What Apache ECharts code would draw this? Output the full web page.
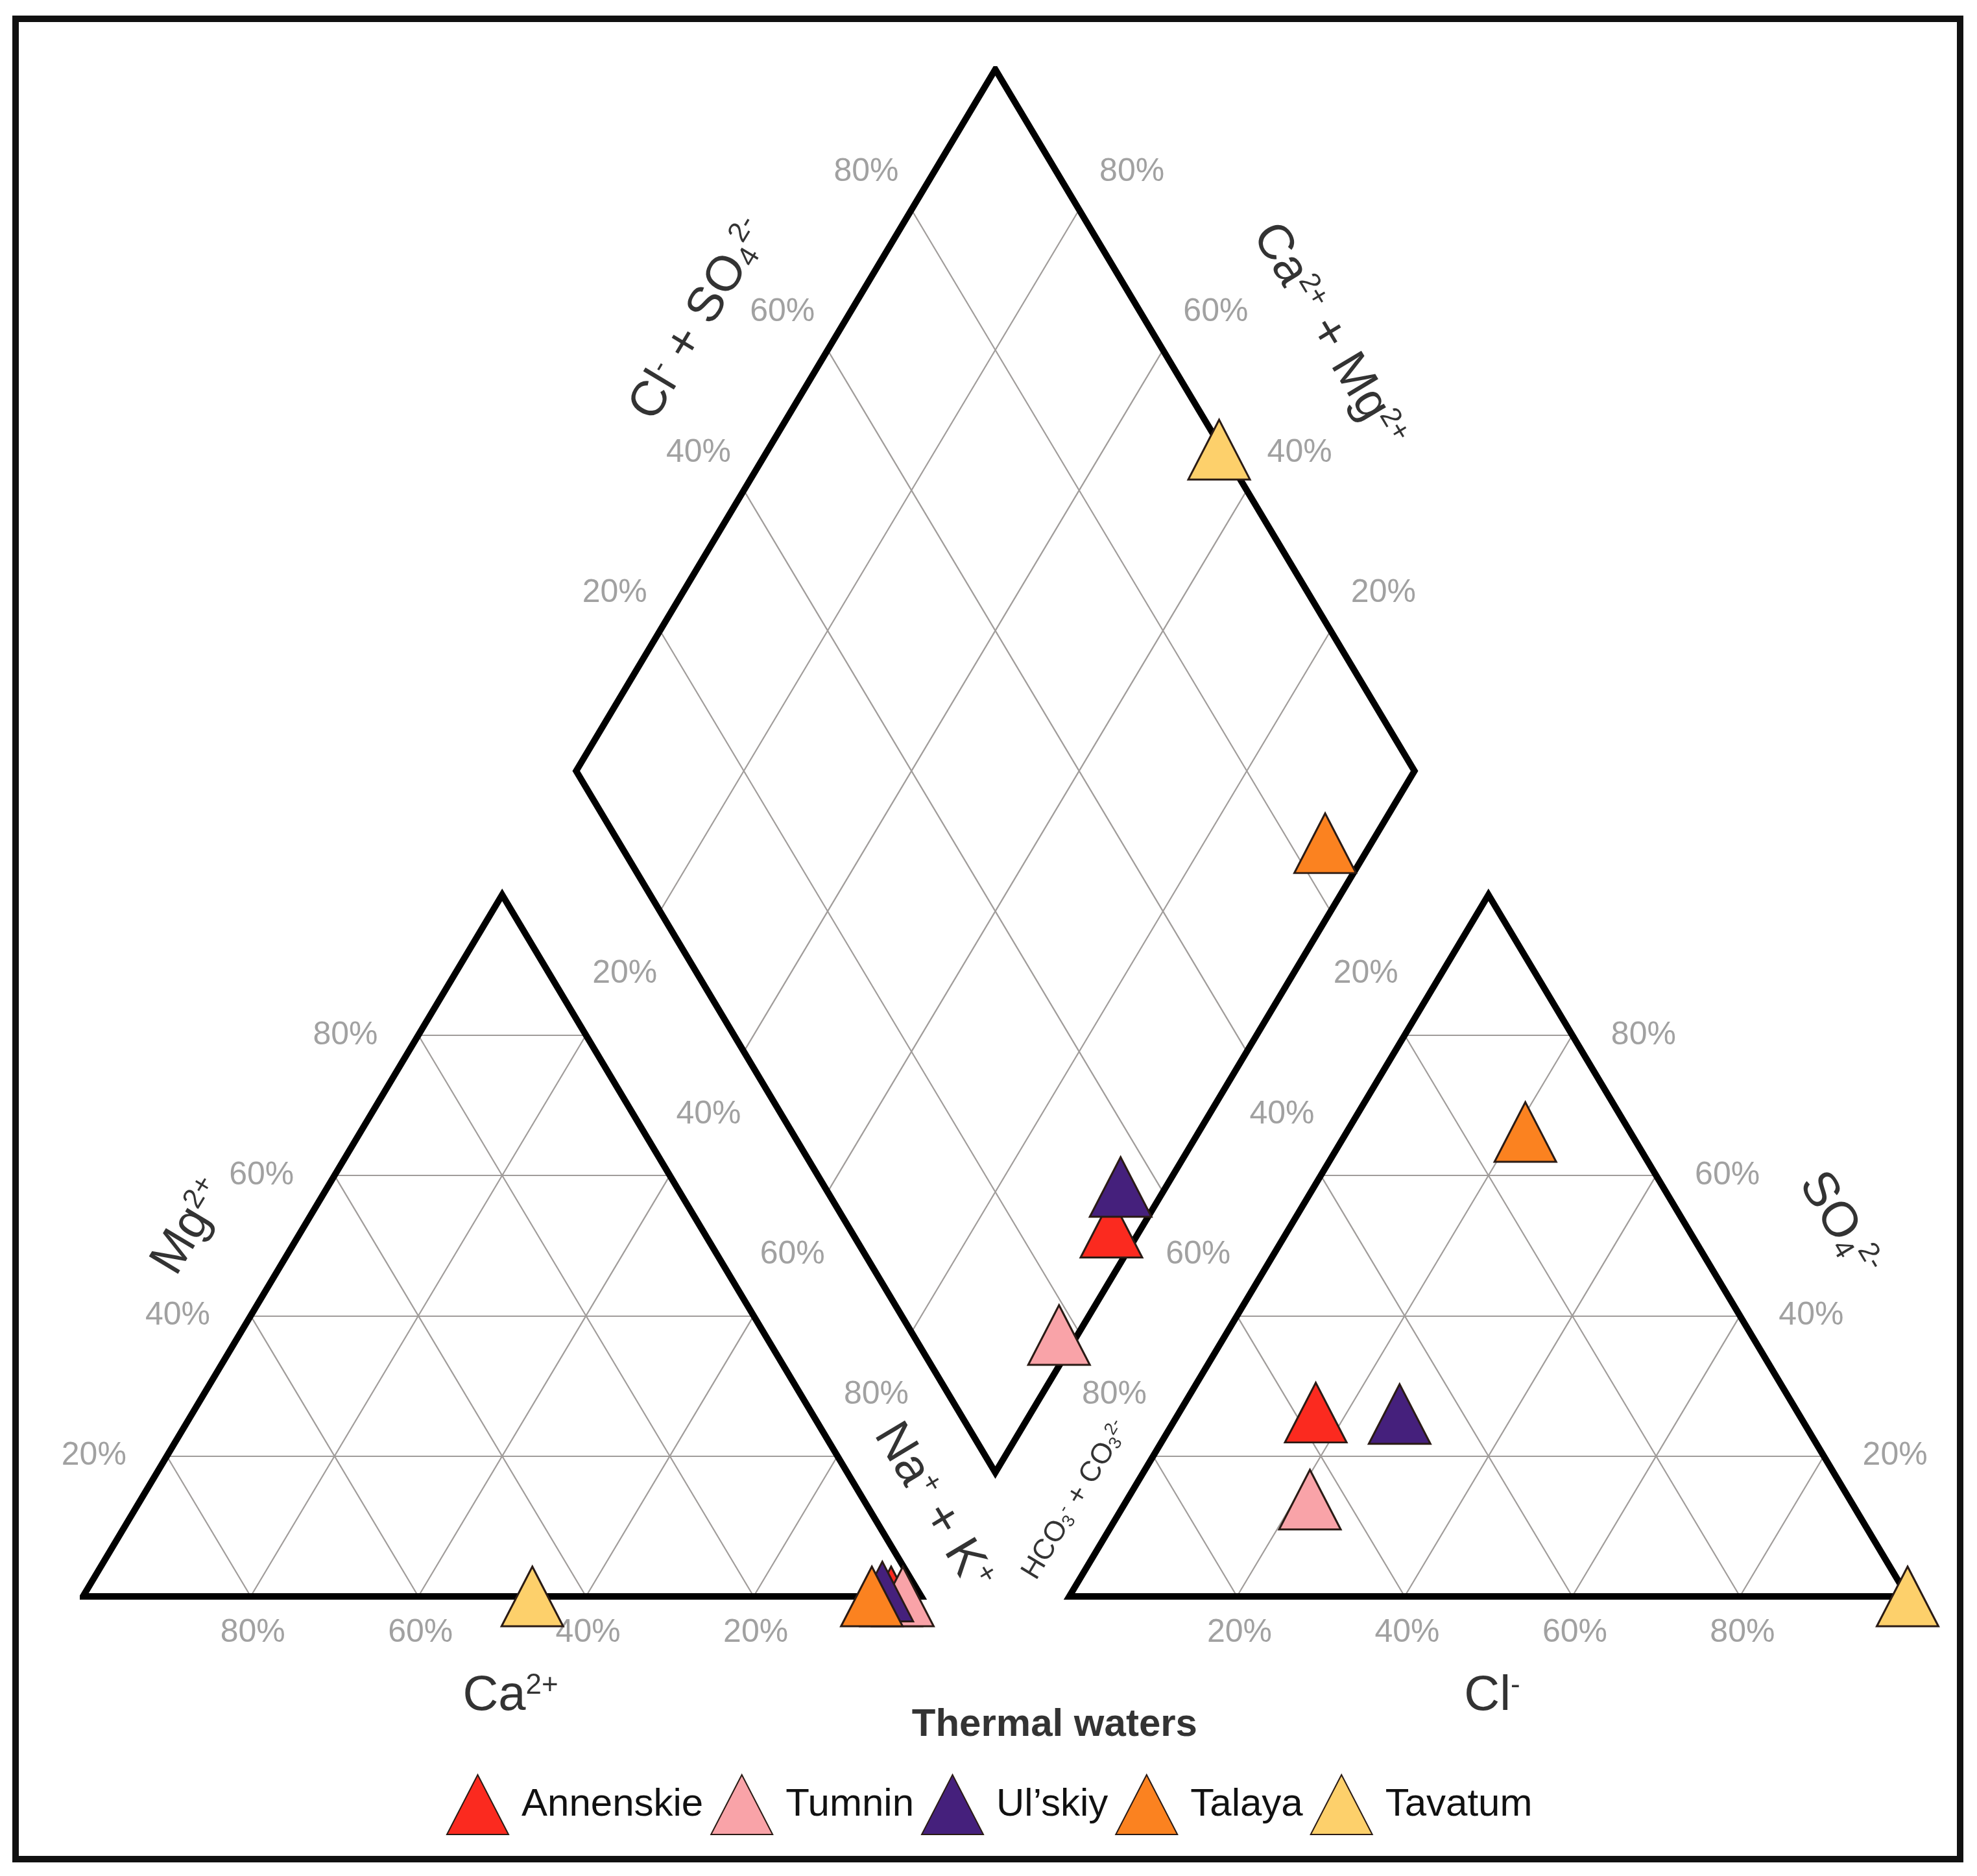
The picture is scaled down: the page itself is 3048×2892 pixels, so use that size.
<!DOCTYPE html>
<html>
<head>
<meta charset="utf-8">
<title>Piper diagram - thermal waters</title>
<script src="https://cdn.jsdelivr.net/npm/echarts@6/dist/echarts.min.js"></script>
<style>
  html, body { margin: 0; padding: 0; background: #fff; }
  #chart { width: 3048px; height: 2892px; }
</style>
</head>
<body>
<div id="chart"></div>
<script>
// sample groups (legend order = drawing order)
const groups = ['Annenskie', 'Tumnin', 'Ul\u2019skiy', 'Talaya', 'Tavatum'];
const colors = ['#fb2a1f', '#f9a3a8', '#45207c', '#fb8220', '#fdd06b'];

// cation triangle, % meq (Na+K is the rest)
const caPct = [3.6, 2.2, 4.3, 5.9, 46.4];
const mgPct = [0, 0, 0.7, 0, 0];

// anion triangle, % meq (HCO3+CO3 is the rest)
const clPct = [16.3, 21.8, 26.4, 21.3, 100];
const so4Pct = [26.2, 13.8, 26.0, 66.2, 0];

// diamond, as plotted in the figure: Ca+Mg %, Cl+SO4 %
const diaCaMg = [3.6, 2.2, 5.4, 5.5, 46.2];
const diaClSo4 = [31.3, 17.4, 35.3, 84.2, 99.6];

const ticks = [20, 40, 60, 80];

// geometry (triangle side = 100 units)
const GAP = 17.66;
const H = Math.sqrt(3) / 2;
const X0 = 100 + GAP;
const B = [100 + GAP / 2, GAP * H];   // bottom vertex of the diamond
const YMAX = B[1] + 200 * H;

function cat(ca, mg) { return [100 - ca - mg + mg / 2, mg * H]; }
function an(cl, so4) { return [X0 + cl + so4 / 2, so4 * H]; }
function dia(a, b) { return [B[0] + (b - a) / 2, B[1] + (a + b) * H]; }
function seg(p, q) { return { coords: [p, q] }; }
function add(p, d) { return [p[0] + d[0], p[1] + d[1]]; }

// grid lines
let gridSegs = [];
ticks.forEach(k => {
  gridSegs.push(seg(cat(100 - k, k), cat(0, k)));
  gridSegs.push(seg(cat(k, 0), cat(k, 100 - k)));
  gridSegs.push(seg(cat(100 - k, 0), cat(0, 100 - k)));
  gridSegs.push(seg(an(k, 0), an(k, 100 - k)));
  gridSegs.push(seg(an(0, k), an(100 - k, k)));
  gridSegs.push(seg(an(100 - k, 0), an(0, 100 - k)));
  gridSegs.push(seg(dia(k, 0), dia(k, 100)));
  gridSegs.push(seg(dia(0, k), dia(100, k)));
});

const outlines = [
  { coords: [cat(100, 0), cat(0, 0), cat(0, 100), cat(100, 0), cat(0, 0)] },
  { coords: [an(0, 0), an(100, 0), an(0, 100), an(0, 0), an(100, 0)] },
  { coords: [dia(0, 0), dia(0, 100), dia(100, 100), dia(100, 0), dia(0, 0), dia(0, 100)] }
];

const FONT = 'Liberation Sans';
const tickColor = '#8a8a8a';

// tick labels
let tickItems = [];
function tickLabel(pos, text) {
  tickItems.push({ value: pos, label: { formatter: text } });
}
ticks.forEach(k => {
  const t = k + '%';
  tickLabel(add(cat(k, 0), [0.25, -4.5]), t);               // Ca
  tickLabel(add(cat(100 - k, k), [-8.7, 0]), t);            // Mg
  tickLabel(add(an(k, 0), [0.3, -4.5]), t);                 // Cl
  tickLabel(add(an(100 - k, k), [8.5, 0]), t);              // SO4
  tickLabel(add(dia(100, k), [-5.4, 4.65]), t);             // Cl + SO4
  tickLabel(add(dia(k, 100), [6.3, 4.65]), t);              // Ca + Mg
  tickLabel(add(dia(100 - k, 0), [-4.2, -7.75]), t);        // Na + K
  tickLabel(add(dia(0, 100 - k), [4.2, -7.75]), t);         // HCO3 + CO3
});

// axis titles
const big = 76, small = 44;
function rs(size, va, lh) {
  return { fontSize: size, fontFamily: FONT, color: '#000', verticalAlign: va, lineHeight: lh };
}
const richBig = { sup: rs(44, 'top', big), sub: rs(44, 'bottom', big) };
const richSmall = { sup: rs(27, 'top', small), sub: rs(27, 'bottom', small) };
const titles = [
  { pos: [51.0, -12.3], text: 'Ca{sup|2+}', rot: 0 },
  { pos: [168.1, -12.3], text: 'Cl{sup|-}', rot: 0 },
  { pos: [12.8, 45.6], text: 'Mg{sup|2+}', rot: 59 },
  { pos: [209.5, 45.9], text: 'SO{sub|4}{sup|2-}', rot: -59 },
  { pos: [73.6, 157.6], text: 'Cl{sup|-} + SO{sub|4}{sup|2-}', rot: 59 },
  { pos: [148.6, 155.6], text: 'Ca{sup|2+} + Mg{sup|2+}', rot: -59 },
  { pos: [101.4, 11.05], text: 'Na{sup|+} + K{sup|+}', rot: -59 },
  { pos: [118.4, 11.9], text: 'HCO{sub|3}{sup|-} + CO{sub|3}{sup|2-}', rot: 59, size: small }
];
const titleItems = titles.map(t => ({
  value: t.pos,
  label: {
    formatter: t.text, rotate: t.rot, fontSize: t.size || big,
    lineHeight: t.size || big, rich: t.size ? richSmall : richBig
  }
}));
titleItems.push({
  value: [115.9, -15.9],
  label: { formatter: 'Thermal waters', fontSize: 60, fontWeight: 'bold', color: '#000' }
});

const sampleSeries = groups.map((g, i) => ({
  name: g,
  type: 'scatter',
  symbol: 'triangle',
  symbolSize: [95, 92],
  clip: false,
  z: 5,
  itemStyle: { color: colors[i], borderColor: '#2a1b15', borderWidth: 3, opacity: 1 },
  data: [
    cat(caPct[i], mgPct[i]),
    an(clPct[i], so4Pct[i]),
    dia(diaCaMg[i], diaClSo4[i])
  ]
}));

const chart = echarts.init(document.getElementById('chart'), null, { renderer: 'canvas' });
chart.setOption({
  animation: false,
  backgroundColor: '#ffffff',
  grid: { left: 128, top: 107, width: 2813, height: 2354 },
  xAxis: { type: 'value', min: 0, max: X0 + 100, show: false },
  yAxis: { type: 'value', min: 0, max: YMAX, show: false },
  legend: {
    data: groups,
    left: 688,
    top: 2735,
    padding: 0,
    icon: 'triangle',
    itemWidth: 95,
    itemHeight: 92,
    itemGap: 11,
    selectedMode: false,
    textStyle: { fontSize: 60, color: '#111', fontFamily: FONT, padding: [0, 0, 0, 15] }
  },
  graphic: [{
    type: 'rect',
    shape: { x: 24, y: 29, width: 2998, height: 2837 },
    style: { fill: 'none', stroke: '#111', lineWidth: 10 },
    silent: true
  }],
  series: [
    {
      type: 'lines', coordinateSystem: 'cartesian2d', silent: true, z: 1,
      lineStyle: { color: '#a09c9a', width: 2.2, opacity: 1 },
      data: gridSegs
    },
    {
      type: 'lines', coordinateSystem: 'cartesian2d', polyline: true, silent: true, z: 2,
      lineStyle: { color: '#000', width: 10, opacity: 1, join: 'miter', cap: 'butt' },
      data: outlines
    },
    {
      type: 'scatter', silent: true, clip: false, z: 3, symbolSize: 1,
      itemStyle: { color: 'transparent' },
      label: { show: true, position: 'inside', fontSize: 50, color: tickColor, fontFamily: FONT },
      data: tickItems
    },
    {
      type: 'scatter', silent: true, clip: false, z: 3, symbolSize: 1,
      itemStyle: { color: 'transparent' },
      label: { show: true, position: 'inside', color: '#000', fontFamily: FONT },
      data: titleItems
    }
  ].concat(sampleSeries)
});
</script>
</body>
</html>
